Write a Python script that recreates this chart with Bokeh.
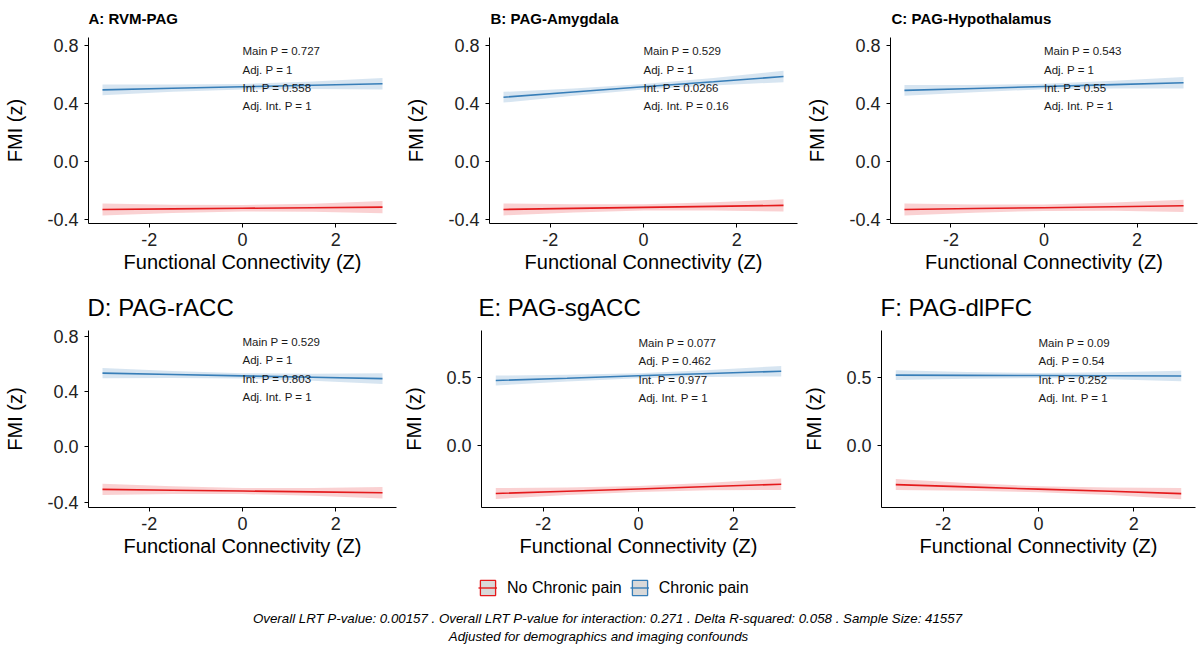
from bokeh.plotting import figure
from bokeh.layouts import column, row
from bokeh.models import (Range1d, FixedTicker, Label, Legend, LegendItem,
                          PrintfTickFormatter)
from bokeh.embed import file_html
from bokeh.resources import INLINE

FONT = "Liberation Sans"

# ---------------- data ----------------
x_fc = [-3, -1.5, 0, 1.5, 3]

panel_titles = ["A: RVM-PAG", "B: PAG-Amygdala", "C: PAG-Hypothalamus",
                "D: PAG-rACC", "E: PAG-sgACC", "F: PAG-dlPFC"]

chronic_fit = [
    [0.494, 0.505, 0.515, 0.526, 0.536],
    [0.443, 0.479, 0.515, 0.550, 0.586],
    [0.490, 0.503, 0.517, 0.530, 0.543],
    [0.533, 0.523, 0.513, 0.503, 0.493],
    [0.480, 0.497, 0.515, 0.532, 0.549],
    [0.520, 0.518, 0.517, 0.515, 0.513],
]
no_chronic_fit = [
    [-0.331, -0.327, -0.323, -0.319, -0.315],
    [-0.331, -0.324, -0.317, -0.310, -0.303],
    [-0.331, -0.325, -0.319, -0.312, -0.306],
    [-0.307, -0.313, -0.319, -0.325, -0.331],
    [-0.361, -0.344, -0.327, -0.309, -0.292],
    [-0.292, -0.309, -0.326, -0.342, -0.359],
]
chronic_ci = [0.037, 0.025, 0.019, 0.026, 0.039]
no_chronic_ci = [0.041, 0.028, 0.022, 0.028, 0.042]

annot = [
    ["Main P = 0.727", "Adj. P = 1", "Int. P = 0.558", "Adj. Int. P = 1"],
    ["Main P = 0.529", "Adj. P = 1", "Int. P = 0.0266", "Adj. Int. P = 0.16"],
    ["Main P = 0.543", "Adj. P = 1", "Int. P = 0.55", "Adj. Int. P = 1"],
    ["Main P = 0.529", "Adj. P = 1", "Int. P = 0.803", "Adj. Int. P = 1"],
    ["Main P = 0.077", "Adj. P = 0.462", "Int. P = 0.977", "Adj. Int. P = 1"],
    ["Main P = 0.09", "Adj. P = 0.54", "Int. P = 0.252", "Adj. Int. P = 1"],
]
annot_y = 0.76

x_ticks = [-2, 0, 2]
y_ticks = [[-0.4, 0.0, 0.4, 0.8]] * 4 + [[0.0, 0.5]] * 2
y_ranges = [(-0.428, 0.855)] * 3 + [(-0.438, 0.841), (-0.465, 0.852), (-0.462, 0.851)]
x_range = (-3.3, 3.3)

legend_labels = ["No Chronic pain", "Chronic pain"]
caption1 = ("Overall LRT P-value: 0.00157 . Overall LRT P-value for interaction: 0.271 . "
            "Delta R-squared: 0.058 . Sample Size: 41557")
caption2 = "Adjusted for demographics and imaging confounds"

RED = "#E41A1C"
BLUE = "#377EB8"

# ---------------- layout parameters ----------------
# (width, height, border_left, border_right, border_top, border_bottom)
geom = [
    (400, 258, 88, 4, 5, 67),
    (400, 258, 89, 3, 5, 67),
    (401, 258, 90, 4, 5, 67),
    (400, 246, 88, 4, 6, 63),
    (400, 246, 78, 5, 6, 63),
    (401, 246, 79, 6, 6, 63),
]
# title strips: (height, [x of each title], y from strip bottom, size, style)
strips = [
    (32, [88, 490, 891], 14, "15px", "bold"),
    (34, [87, 478, 880], 17, "24px", "normal"),
]


def blank_fig(w, h):
    f = figure(width=w, height=h, output_backend="svg", toolbar_location=None,
               x_range=Range1d(0, 1), y_range=Range1d(0, 1),
               x_axis_type=None, y_axis_type=None,
               min_border=0, min_border_left=0, min_border_right=0,
               min_border_top=0, min_border_bottom=0)
    f.outline_line_color = None
    f.xgrid.visible = False
    f.ygrid.visible = False
    return f


def make_strip(r):
    h, xs, y, size, style = strips[r]
    s = blank_fig(1201, h)
    for k in range(3):
        s.add_layout(Label(x=xs[k], y=y, x_units="screen", y_units="screen",
                           text=panel_titles[3 * r + k], text_font=FONT,
                           text_font_size=size, text_font_style=style,
                           text_color="#000000", text_align="left",
                           text_baseline="middle"))
    return s


def make_panel(i):
    w, h, bl, br, bt, bb = geom[i]
    p = figure(width=w, height=h, output_backend="svg", toolbar_location=None,
               x_range=Range1d(*x_range), y_range=Range1d(*y_ranges[i]),
               min_border_left=bl, min_border_right=br,
               min_border_top=bt, min_border_bottom=bb)
    p.outline_line_color = None
    p.xgrid.visible = False
    p.ygrid.visible = False
    p.background_fill_color = "white"
    p.border_fill_color = "white"

    lo_b = [f - c for f, c in zip(chronic_fit[i], chronic_ci)]
    hi_b = [f + c for f, c in zip(chronic_fit[i], chronic_ci)]
    lo_r = [f - c for f, c in zip(no_chronic_fit[i], no_chronic_ci)]
    hi_r = [f + c for f, c in zip(no_chronic_fit[i], no_chronic_ci)]
    p.varea(x=x_fc, y1=lo_r, y2=hi_r, fill_color=RED, fill_alpha=0.2)
    p.varea(x=x_fc, y1=lo_b, y2=hi_b, fill_color=BLUE, fill_alpha=0.2)
    p.line(x=x_fc, y=no_chronic_fit[i], line_color=RED, line_width=1.6)
    p.line(x=x_fc, y=chronic_fit[i], line_color=BLUE, line_width=1.6)

    for k, t in enumerate(annot[i]):
        p.add_layout(Label(x=0, y=annot_y, y_offset=-18.4 * k, text=t,
                           text_font=FONT, text_font_size="11.5px",
                           text_color="#1a1a1a", text_align="left",
                           text_baseline="middle"))

    for ax in (p.xaxis[0], p.yaxis[0]):
        ax.axis_line_color = "black"
        ax.axis_line_width = 1
        ax.major_tick_line_color = "black"
        ax.major_tick_out = 4
        ax.major_tick_in = 0
        ax.minor_tick_line_color = None
        ax.major_label_text_font = FONT
        ax.major_label_text_font_size = "18px"
        ax.major_label_text_color = "#222222"
        ax.axis_label_text_font = FONT
        ax.axis_label_text_font_size = "20px"
        ax.axis_label_text_font_style = "normal"
        ax.axis_label_text_color = "#000000"
    p.xaxis.ticker = FixedTicker(ticks=x_ticks)
    p.yaxis.ticker = FixedTicker(ticks=y_ticks[i])
    p.xaxis.formatter = PrintfTickFormatter(format="%d")
    p.yaxis.formatter = PrintfTickFormatter(format="%.1f")
    p.xaxis.axis_label = "Functional Connectivity (Z)"
    p.yaxis.axis_label = "FMI (z)"
    p.xaxis.major_label_standoff = 5
    p.yaxis.major_label_standoff = 6
    p.xaxis.axis_label_standoff = 2
    p.yaxis.axis_label_standoff = 18
    return p


panels = [make_panel(i) for i in range(6)]

# ---------------- footer: legend and captions ----------------
foot = blank_fig(1201, 76)

# legend-key renderers: their own glyphs sit outside the visible range
items = []
for lab, col in zip(legend_labels, [RED, BLUE]):
    q = foot.quad(left=[5], right=[6], top=[6], bottom=[5], fill_color="#D9D9D9",
                  fill_alpha=1.0, line_color=col, line_width=1.3)
    ln = foot.line(x=[5, 6], y=[5, 5], line_color=col, line_width=1.4)
    items.append(LegendItem(label=lab, renderers=[q, ln]))

leg = Legend(items=items, orientation="horizontal", location=(478, 49),
             glyph_width=19, glyph_height=19, label_height=19,
             label_text_font=FONT, label_text_font_size="16px",
             label_text_color="#000000", padding=0, margin=0, spacing=8,
             label_standoff=10, border_line_color=None,
             background_fill_alpha=0)
foot.add_layout(leg)

foot.add_layout(Label(x=607, y=28, x_units="screen", y_units="screen",
                      text=caption1, text_font=FONT, text_font_size="13.3px",
                      text_font_style="italic", text_color="#000000",
                      text_align="center", text_baseline="middle"))
foot.add_layout(Label(x=598, y=10, x_units="screen", y_units="screen",
                      text=caption2, text_font=FONT, text_font_size="13.3px",
                      text_font_style="italic", text_color="#000000",
                      text_align="center", text_baseline="middle"))

layout = column(make_strip(0),
                row(*panels[:3], spacing=0),
                make_strip(1),
                row(*panels[3:], spacing=0),
                foot,
                spacing=0)

open("out.html", "w").write(file_html(layout, INLINE))
